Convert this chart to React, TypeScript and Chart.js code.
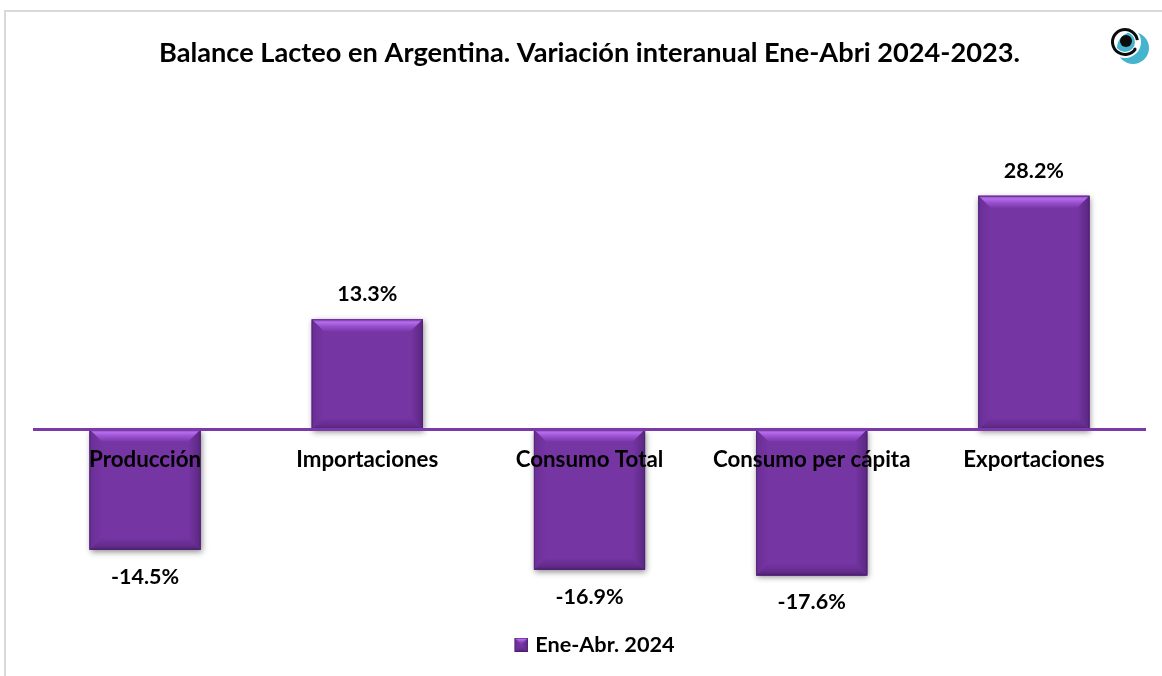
import React, { useEffect, useRef } from "react";
import { Chart, registerables } from "chart.js";

Chart.register(...registerables);

const categories = ["Producción", "Importaciones", "Consumo Total", "Consumo per cápita", "Exportaciones"];
const seriesName = "Ene-Abr. 2024";
const values = [-14.5, 13.3, -16.9, -17.6, 28.2];
const titleText = "Balance Lacteo en Argentina. Variación interanual Ene-Abri 2024-2023.";
const FONT = "Lato, Carlito, 'Open Sans', sans-serif";
const PURPLE = "#7535a3";

function bevel(ctx: CanvasRenderingContext2D, x: number, y: number, w: number, h: number, d: number) {
  const r = x + w, b = y + h;
  ctx.save();
  ctx.fillStyle = PURPLE;
  ctx.fillRect(x, y, w, h);
  // top
  let g = ctx.createLinearGradient(0, y, 0, y + d);
  g.addColorStop(0, "#8a45bd");
  g.addColorStop(0.25, "#b56cec");
  g.addColorStop(0.55, "#9a52cf");
  g.addColorStop(1, "#7a38a9");
  ctx.fillStyle = g;
  ctx.beginPath(); ctx.moveTo(x, y); ctx.lineTo(r, y); ctx.lineTo(r - d, y + d); ctx.lineTo(x + d, y + d); ctx.closePath(); ctx.fill();
  // bottom
  g = ctx.createLinearGradient(0, b - d, 0, b);
  g.addColorStop(0, "#7535a3");
  g.addColorStop(0.7, "#632b8c");
  g.addColorStop(1, "#4f2270");
  ctx.fillStyle = g;
  ctx.beginPath(); ctx.moveTo(x, b); ctx.lineTo(r, b); ctx.lineTo(r - d, b - d); ctx.lineTo(x + d, b - d); ctx.closePath(); ctx.fill();
  // left
  g = ctx.createLinearGradient(x, 0, x + d, 0);
  g.addColorStop(0, "#6a2e96");
  g.addColorStop(1, "#7535a3");
  ctx.fillStyle = g;
  ctx.beginPath(); ctx.moveTo(x, y); ctx.lineTo(x + d, y + d); ctx.lineTo(x + d, b - d); ctx.lineTo(x, b); ctx.closePath(); ctx.fill();
  // right
  g = ctx.createLinearGradient(r - d, 0, r, 0);
  g.addColorStop(0, "#7535a3");
  g.addColorStop(1, "#5a2780");
  ctx.fillStyle = g;
  ctx.beginPath(); ctx.moveTo(r, y); ctx.lineTo(r - d, y + d); ctx.lineTo(r - d, b - d); ctx.lineTo(r, b); ctx.closePath(); ctx.fill();
  ctx.strokeStyle = "rgba(70,30,100,0.55)";
  ctx.lineWidth = 1;
  ctx.strokeRect(x + 0.5, y + 0.5, w - 1, h - 1);
  ctx.restore();
}

function legendSwatch() {
  const c = document.createElement("canvas");
  c.width = 28; c.height = 14;
  const ctx = c.getContext("2d")!;
  bevel(ctx, 14, 0, 14, 14, 6);
  return c;
}

const framePlugin = {
  id: "frame",
  beforeDraw(chart: any) {
    const { ctx, width, height } = chart;
    ctx.save();
    ctx.fillStyle = "#ffffff";
    ctx.fillRect(0, 0, width, height);
    ctx.fillStyle = "#d9d9d9";
    ctx.fillRect(4, 10, width - 4, 2);
    ctx.fillRect(4, 10, 2, height - 10);
    ctx.restore();
  },
  afterDraw(chart: any) {
    const { ctx } = chart;
    ctx.save();
    ctx.fillStyle = "#45b5cf";
    ctx.beginPath(); ctx.arc(1133, 48, 16, 0, Math.PI * 2); ctx.fill();
    ctx.strokeStyle = "#ffffff";
    ctx.lineWidth = 6;
    ctx.beginPath(); ctx.arc(1125, 42, 13, 0, Math.PI * 2); ctx.stroke();
    ctx.strokeStyle = "#0c0c0c";
    ctx.lineWidth = 3;
    ctx.beginPath(); ctx.arc(1125, 42, 12.5, 0.6, Math.PI * 2 - 0.15); ctx.stroke();
    ctx.fillStyle = "#0c0c0c";
    ctx.beginPath(); ctx.arc(1126, 41, 6, 0, Math.PI * 2); ctx.fill();
    ctx.beginPath(); ctx.arc(1135, 49, 1.5, 0, Math.PI * 2); ctx.fill();
    ctx.restore();
  },
};

const barStylePlugin = {
  id: "barStyle",
  afterDatasetsDraw(chart: any) {
    const { ctx } = chart;
    const meta = chart.getDatasetMeta(0);
    meta.data.forEach((bar: any, i: number) => {
      const left = bar.x - bar.width / 2;
      const top = Math.min(bar.y, bar.base);
      const h = Math.abs(bar.y - bar.base);
      ctx.save();
      ctx.shadowColor = "rgba(0,0,0,0.45)";
      ctx.shadowBlur = 6;
      ctx.shadowOffsetX = 1;
      ctx.shadowOffsetY = 2;
      ctx.fillStyle = PURPLE;
      ctx.fillRect(left, top, bar.width, h);
      ctx.restore();
      bevel(ctx, left, top, bar.width, h, 12);
      const v = values[i];
      ctx.save();
      ctx.fillStyle = "#000";
      ctx.font = `bold 21.5px ${FONT}`;
      ctx.textAlign = "center";
      ctx.textBaseline = "middle";
      const ly = v >= 0 ? bar.y - 25 : bar.y + 27;
      ctx.fillText(`${v.toFixed(1)}%`, bar.x, ly);
      ctx.restore();
    });
  },
};

export default function App() {
  const ref = useRef<HTMLCanvasElement>(null);
  useEffect(() => {
    const chart = new Chart(ref.current!, {
      type: "bar",
      data: {
        labels: categories,
        datasets: [{
          label: seriesName,
          data: values,
          backgroundColor: PURPLE,
          barPercentage: 0.5,
          categoryPercentage: 1,
          pointStyle: legendSwatch() as any,
        }],
      },
      options: {
        responsive: false,
        animation: false,
        layout: { padding: { left: 34, right: 17, top: 0, bottom: 10.4 } },
        scales: {
          x: {
            position: { y: 0 } as any,
            z: 1,
            grid: { display: false, drawTicks: false },
            border: { display: true, color: "#7a3ba8", width: 3, z: 1 },
            ticks: { z: 1, color: "#000", font: { family: FONT, size: 22.3, weight: "bold" }, padding: 17, maxRotation: 0, autoSkip: false },
          },
          y: { display: false, min: -23.855, max: 40 },
        },
        plugins: {
          title: {
            display: true,
            text: titleText,
            color: "#000",
            font: { family: FONT, size: 27.2, weight: "bold" },
            padding: { top: 37, bottom: 28.4 },
          },
          legend: {
            display: true,
            position: "bottom",
            labels: {
              color: "#000",
              font: { family: FONT, size: 21.7, weight: "bold" },
              usePointStyle: true,
              pointStyleWidth: 20,
              padding: 6.6,
            },
          },
          tooltip: { enabled: false },
        },
      },
      plugins: [framePlugin, barStylePlugin],
    });
    return () => chart.destroy();
  }, []);
  return (
    <div style={{ position: "absolute", left: 0, top: 0, width: 1162, height: 676 }}>
      <canvas ref={ref} width={1162} height={676} style={{ display: "block" }} />
    </div>
  );
}
